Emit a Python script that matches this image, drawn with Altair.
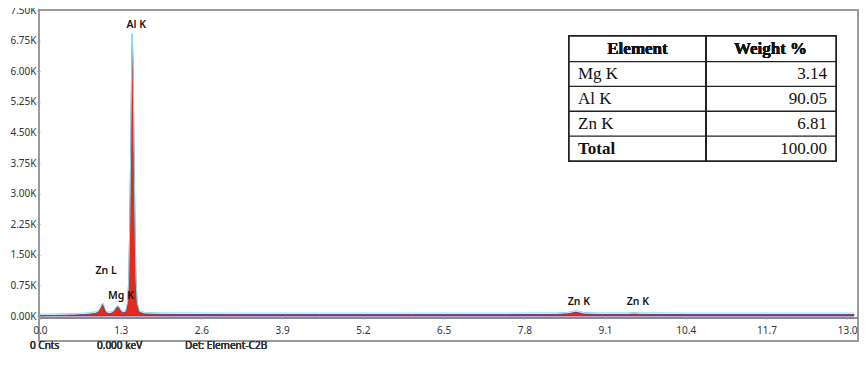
import altair as alt
import pandas as pd

# ---- spectrum ----
kev = [0.00, 0.10, 0.25, 0.40, 0.55, 0.70, 0.82, 0.90, 0.95, 0.98, 1.00, 1.012, 1.025, 1.045, 1.07,
       1.12, 1.17, 1.20, 1.23, 1.254, 1.275, 1.30, 1.33, 1.38, 1.41, 1.43, 1.445, 1.46, 1.475, 1.487,
       1.50, 1.515, 1.53, 1.545, 1.565, 1.60, 1.70, 2.00, 3.00, 4.50, 6.00, 7.50, 8.30, 8.50, 8.58,
       8.63, 8.68, 8.76, 9.00, 9.45, 9.57, 9.70, 10.5, 12.0, 13.11]
counts = [5, 10, 15, 20, 25, 35, 50, 70, 110, 200, 265, 280, 250, 150, 80,
          60, 80, 130, 200, 225, 195, 120, 80, 90, 300, 900, 2200, 3900, 6000, 6900,
          6000, 3900, 2200, 900, 300, 90, 50, 40, 35, 35, 35, 35, 40, 55, 80,
          95, 80, 50, 40, 40, 50, 40, 35, 35, 35]

peak_names = ["Al K", "Zn L", "Mg K", "Zn K", "Zn K"]
peak_kev = [1.55, 1.065, 1.305, 8.68, 9.63]
peak_counts = [7140, 1115, 480, 350, 350]

x_ticks = [0.0, 1.3, 2.6, 3.9, 5.2, 6.5, 7.8, 9.1, 10.4, 11.7, 13.0]
y_ticks = [0, 750, 1500, 2250, 3000, 3750, 4500, 5250, 6000, 6750, 7500]

# ---- table ----
table_headers = ["Element", "Weight %"]
elements = ["Mg K", "Al K", "Zn K", "Total"]
weights = ["3.14", "90.05", "6.81", "100.00"]

footer = ["0 Cnts", "0.000 keV", "Det: Element-C2B"]

W, H = 814, 306
AXIS_FONT = "Noto Sans"

spec = pd.DataFrame({"kev": kev, "counts": counts})
peaks = pd.DataFrame({"name": peak_names, "kev": peak_kev, "counts": peak_counts})
table = pd.DataFrame({"element": elements, "weight": weights,
                      "row": list(range(1, len(elements) + 1))})

xscale = alt.Scale(domain=[0, 13.11], nice=False, zero=False)
yscale = alt.Scale(domain=[0, 7500], nice=False)

x_axis = alt.Axis(values=x_ticks, format=".1f", grid=False, domain=False, labelFlush=False,
                  tickColor="#999999", tickSize=3, labelFont=AXIS_FONT, labelFontSize=10,
                  labelColor="#333333", labelPadding=6, title="", zindex=2)
y_axis = alt.Axis(values=y_ticks, labelExpr="format(datum.value/1000, '.2f') + 'K'",
                  grid=False, domain=False, tickColor="#999999", tickSize=3, labelFlush=False,
                  labelFont=AXIS_FONT, labelFontSize=10, labelColor="#333333",
                  labelPadding=1, title="", zindex=2)

X = alt.X("kev:Q", scale=xscale, axis=x_axis)

frame = alt.Chart(spec).mark_rect(fillOpacity=0, stroke="#9a9a9a", strokeWidth=1.5).encode(
    x=alt.value(-1), x2=alt.value(W + 4), y=alt.value(0), y2=alt.value(331))

area = alt.Chart(spec).mark_area(color="#e42a1d", stroke="#5b2b8a", strokeWidth=0.8,
                                 interpolate="linear").encode(
    x=X, y=alt.Y("counts:Q", scale=yscale, axis=y_axis))

line = alt.Chart(spec).mark_line(color="#86e2ea", strokeWidth=1, yOffset=-1.5).encode(
    x=X, y=alt.Y("counts:Q", scale=yscale, axis=None))

axis_line = alt.Chart(spec).mark_rule(color="#8a8a8a", strokeWidth=2).encode(
    x=alt.value(0), x2=alt.value(W + 4), y=alt.value(H + 2))

labels = alt.Chart(peaks).mark_text(font=AXIS_FONT, fontSize=10.5, fontWeight=600,
                                    color="#151515", baseline="middle").encode(
    x=X, y=alt.Y("counts:Q", scale=yscale, axis=None), text="name:N")

# table
row_scale = alt.Scale(domain=[1, 4], range=[64, 138.5])
SERIF = "Liberation Serif"
tbox = alt.Chart(table).mark_rect(fill="white", stroke="#222222", strokeWidth=1.5).encode(
    x=alt.value(529), x2=alt.value(796), y=alt.value(26), y2=alt.value(151))
tdiv = alt.Chart(table).mark_rule(color="#222222", strokeWidth=1.5).encode(
    x=alt.value(666), y=alt.value(26), y2=alt.value(151))
trows = alt.Chart(table).mark_rule(color="#222222", strokeWidth=1.3, yOffset=-12.4).encode(
    x=alt.value(529), x2=alt.value(796), y=alt.Y("row:Q", scale=row_scale, axis=None))
h1 = alt.Chart(table).mark_text(text=table_headers[0], font=SERIF, fontSize=17, fontWeight="bold",
                                color="#111111", align="center", baseline="middle").encode(
    x=alt.value(597.5), y=alt.value(38.5))
h2 = alt.Chart(table).mark_text(text=table_headers[1], font=SERIF, fontSize=17, fontWeight="bold",
                                color="#111111", align="center", baseline="middle").encode(
    x=alt.value(730.5), y=alt.value(38.5))
tel = alt.Chart(table).transform_filter(alt.datum.element != "Total").mark_text(
    font=SERIF, fontSize=17, color="#111111", align="left", baseline="middle").encode(
    x=alt.value(538), y=alt.Y("row:Q", scale=row_scale, axis=None), text="element:N")
ttot = alt.Chart(table).transform_filter(alt.datum.element == "Total").mark_text(
    font=SERIF, fontSize=17, fontWeight="bold", color="#111111", align="left",
    baseline="middle").encode(
    x=alt.value(538), y=alt.Y("row:Q", scale=row_scale, axis=None), text="element:N")
tval = alt.Chart(table).mark_text(font=SERIF, fontSize=17, color="#111111", align="right",
                                  baseline="middle").encode(
    x=alt.value(787), y=alt.Y("row:Q", scale=row_scale, axis=None), text="weight:N")

f_style = dict(font=AXIS_FONT, fontSize=10, color="#333333", align="left", baseline="middle")
f1 = alt.Chart(table).mark_text(text=footer[0], **f_style).encode(x=alt.value(-10), y=alt.value(336))
f2 = alt.Chart(table).mark_text(text=footer[1], **f_style).encode(x=alt.value(57), y=alt.value(336))
f3 = alt.Chart(table).mark_text(text=footer[2], **f_style).encode(x=alt.value(145), y=alt.value(336))

chart = alt.layer(frame, area, line, axis_line, labels, tbox, trows, tdiv, h1, h2, tel, ttot, tval,
                  f1, f2, f3).resolve_scale(y="independent").properties(
    width=W, height=H,
    autosize=alt.AutoSizeParams(type="none"),
    padding={"left": 32, "top": 2, "right": 5, "bottom": 36},
    background="white",
).configure_view(strokeWidth=0)

chart.save("out.html", embed_options={"renderer": "svg", "actions": False})
